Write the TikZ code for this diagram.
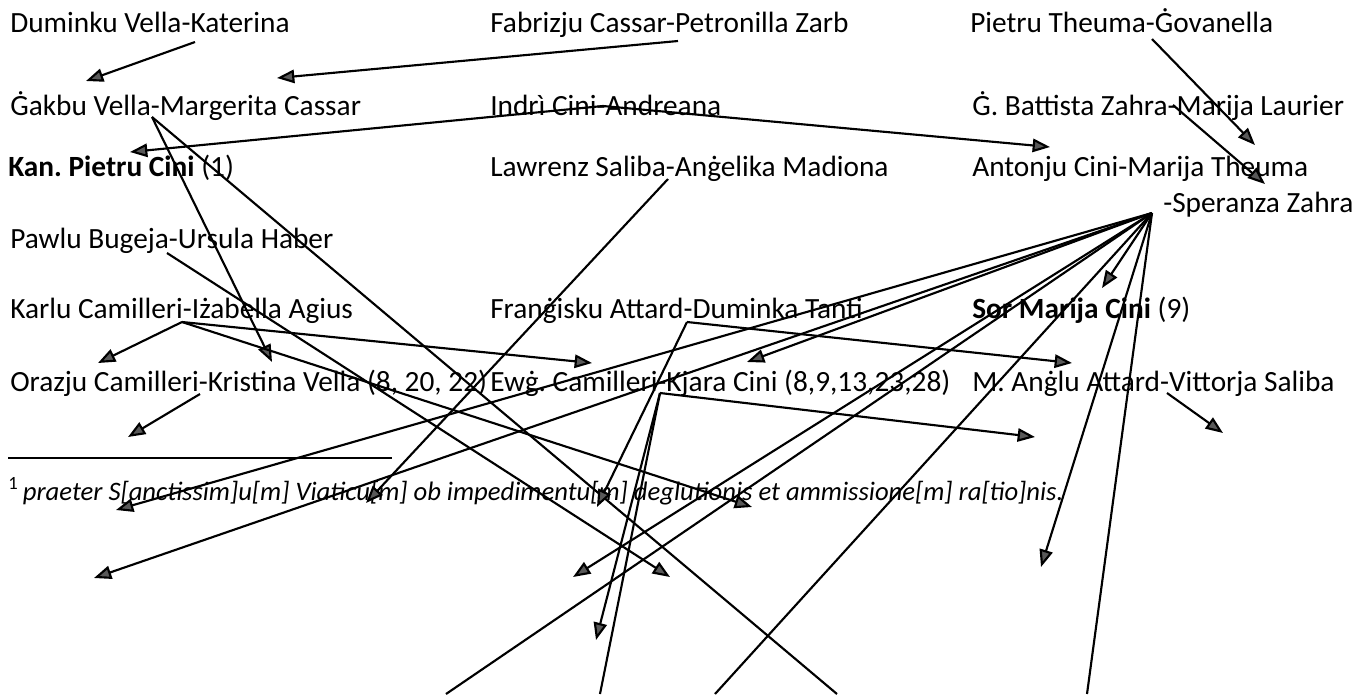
\documentclass[tikz,border=0pt]{standalone}
\usepackage{fontspec}
\setmainfont{Carlito}
\usetikzlibrary{arrows.meta}
\frenchspacing

\begin{document}
\begin{tikzpicture}[x=0.75pt, y=-0.75pt,
    every node/.style = {anchor=base west, inner sep=0pt,
      font=\fontsize{22}{26}\selectfont},
    kin/.style = {line width=1.6pt,
      -{Triangle[length=13pt, width=10pt, fill=black!65]}},
    cut/.style = {line width=1.6pt}]
    \useasboundingbox (0,0) rectangle (1371,694);
    % the couples, three columns
    \node (duminku)   at (10,32)    {Duminku Vella-Katerina};
    \node (fabrizju)  at (490,32)   {Fabrizju Cassar-Petronilla Zarb};
    \node (theuma)    at (970,32)   {Pietru Theuma-Ġovanella};
    \node (gakbu)     at (10,115)   {Ġakbu Vella-Margerita Cassar};
    \node (indri)     at (490,115)  {Indrì Cini-Andreana};
    \node (battista)  at (972,115)  {Ġ. Battista Zahra-Marija Laurier};
    \node (kanonku)   at (8,176)    {\textbf{Kan. Pietru Cini} (1)};
    \node (lawrenz)   at (490,176)  {Lawrenz Saliba-Anġelika Madiona};
    \node (antonju)   at (972,176)  {Antonju Cini-Marija Theuma};
    \node (speranza)  at (1163,212) {-Speranza Zahra};
    \node (pawlu)     at (10,248)   {Pawlu Bugeja-Ursula Haber};
    \node (karlu)     at (10,318)   {Karlu Camilleri-Iżabella Agius};
    \node (frangisku) at (490,318)  {Franġisku Attard-Duminka Tanti};
    \node (sor)       at (972,318)  {\textbf{Sor Marija Cini} (9)};
    \node (orazju)    at (10,391)   {Orazju Camilleri-Kristina Vella (8, 20, 22)};
    \node (ewg)       at (490,391)  {Ewġ. Camilleri-Kjara Cini (8,9,13,23,28)};
    \node (anglu)     at (972,391)  {M. Anġlu Attard-Vittorja Saliba};
    % footnote
    \draw[line width=0.8pt] (8,458) -- (392,458);
    \node[font=\fontsize{20}{24}\selectfont] (fnote) at (8,500)
      {\textsuperscript{1}\,\textit{praeter S[anctissim]u[m] Viaticu[m] ob impedimentu[m] deglutionis et ammissione[m] ra[tio]nis.}};

    % where the lines leave
    \coordinate (dum) at (195,42);
    \coordinate (fab) at (678,41);
    \coordinate (ind) at (603,106);
    \coordinate (the) at (1152,39);
    \coordinate (bat) at (1173,105);
    \coordinate (gak) at (152,117);
    \coordinate (law) at (668,179);
    \coordinate (paw) at (167,253);
    \coordinate (kar) at (182,322);
    \coordinate (ora) at (200,394);
    \coordinate (fra) at (687,322);
    \coordinate (ewj) at (660,393);
    \coordinate (ang) at (1167,393);
    \coordinate (hub) at (1152,213);
    % where they end
    \coordinate (gak-1) at (86,81);
    \coordinate (gak-2) at (277,78);
    \coordinate (kan-1) at (130,152);
    \coordinate (ant-1) at (1050,147);
    \coordinate (ant-2) at (1255,145);
    \coordinate (ant-3) at (1265,184);
    \coordinate (ora-1) at (272,362);
    \coordinate (gak-x) at (837,694);
    \coordinate (law-x) at (366,503);
    \coordinate (paw-x) at (670,577);
    \coordinate (kar-1) at (98,363);
    \coordinate (kar-2) at (592,363);
    \coordinate (kar-3) at (752,507);
    \coordinate (ora-x) at (128,437);
    \coordinate (fra-1) at (597,507);
    \coordinate (fra-2) at (1072,363);
    \coordinate (ewj-1) at (1035,437);
    \coordinate (ewj-2) at (596,640);
    \coordinate (ewj-3) at (600,694);
    \coordinate (ang-x) at (1223,433);
    \coordinate (hub-a) at (116,510);
    \coordinate (hub-b) at (94,578);
    \coordinate (hub-c) at (747,362);
    \coordinate (hub-d) at (1102,288);
    \coordinate (hub-e) at (573,577);
    \coordinate (hub-f) at (446,694);
    \coordinate (hub-g) at (715,694);
    \coordinate (hub-h) at (1041,567);
    \coordinate (hub-i) at (1087,694);

    \draw[kin] (dum) -- (gak-1);
    \draw[kin] (fab) -- (gak-2);
    \draw[kin] (ind) -- (kan-1);
    \draw[kin] (ind) -- (ant-1);
    \draw[kin] (the) -- (ant-2);
    \draw[kin] (bat) -- (ant-3);
    \draw[kin] (gak) -- (ora-1);
    \draw[cut] (gak) -- (gak-x);
    \draw[kin] (law) -- (law-x);
    \draw[kin] (paw) -- (paw-x);
    \draw[kin] (kar) -- (kar-1);
    \draw[kin] (kar) -- (kar-2);
    \draw[kin] (kar) -- (kar-3);
    \draw[kin] (ora) -- (ora-x);
    \draw[kin] (fra) -- (fra-1);
    \draw[kin] (fra) -- (fra-2);
    \draw[kin] (ewj) -- (ewj-1);
    \draw[kin] (ewj) -- (ewj-2);
    \draw[cut] (ewj) -- (ewj-3);
    \draw[kin] (ang) -- (ang-x);
    % from Antonju and Speranza
    \draw[kin] (hub) -- (hub-a);
    \draw[kin] (hub) -- (hub-b);
    \draw[kin] (hub) -- (hub-c);
    \draw[kin] (hub) -- (hub-d);
    \draw[kin] (hub) -- (hub-e);
    \draw[cut] (hub) -- (hub-f);
    \draw[cut] (hub) -- (hub-g);
    \draw[kin] (hub) -- (hub-h);
    \draw[cut] (hub) -- (hub-i);
\end{tikzpicture}
\end{document}
